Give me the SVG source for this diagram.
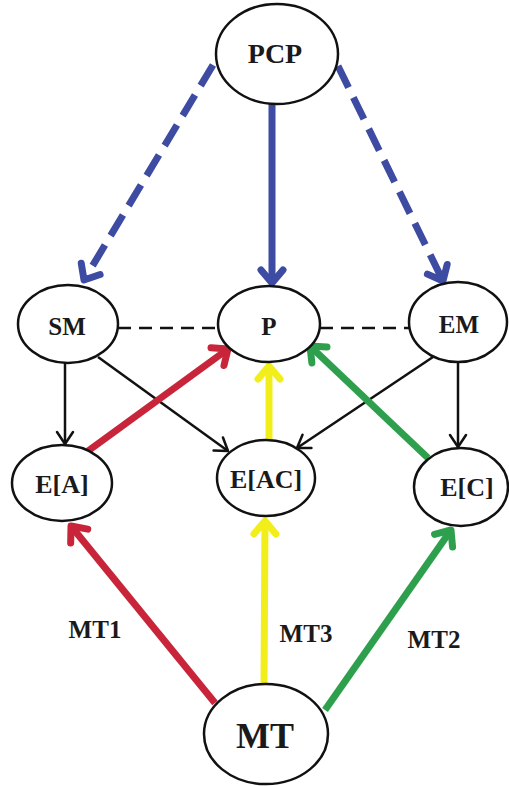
<svg xmlns="http://www.w3.org/2000/svg" width="509" height="786" viewBox="0 0 509 786">
<style>
.node ellipse{fill:#fff;stroke:#111;stroke-width:2.5}
.node text,.lbl{font-family:"Liberation Serif","Times New Roman",serif;font-weight:bold;fill:#1a1a1a;text-anchor:middle}
.c{fill:none;stroke-linecap:butt}
.blue{stroke:#3d4ba3;stroke-width:7}
.dash{stroke-dasharray:24 11}
.blk{stroke:#111;stroke-width:2.5}
.bdash{stroke:#111;stroke-width:2.5;stroke-dasharray:13 8}
.red{stroke:#c9253a;stroke-width:7}
.yel{stroke:#f2ee1c;stroke-width:7}
.grn{stroke:#2ea04d;stroke-width:7}
</style>
<defs>
<marker id="mB" markerUnits="userSpaceOnUse" viewBox="-20 -14 24 28" refX="0" refY="0" markerWidth="24" markerHeight="28" orient="auto" overflow="visible"><path d="M-13 -11 L0 0 L-13 11" fill="none" stroke="#3d4ba3" stroke-width="7" stroke-linecap="round" stroke-linejoin="round"/></marker>
<marker id="mK" markerUnits="userSpaceOnUse" viewBox="-20 -14 24 28" refX="0" refY="0" markerWidth="24" markerHeight="28" orient="auto" overflow="visible"><path d="M-12 -8 L0 0 L-12 8" fill="none" stroke="#111" stroke-width="2.5" stroke-linecap="round" stroke-linejoin="round"/></marker>
<marker id="mR" markerUnits="userSpaceOnUse" viewBox="-20 -14 24 28" refX="0" refY="0" markerWidth="24" markerHeight="28" orient="auto" overflow="visible"><path d="M-13 -11 L0 0 L-13 11" fill="none" stroke="#c9253a" stroke-width="7" stroke-linecap="round" stroke-linejoin="round"/></marker>
<marker id="mY" markerUnits="userSpaceOnUse" viewBox="-20 -14 24 28" refX="0" refY="0" markerWidth="24" markerHeight="28" orient="auto" overflow="visible"><path d="M-13 -11 L0 0 L-13 11" fill="none" stroke="#f2ee1c" stroke-width="7" stroke-linecap="round" stroke-linejoin="round"/></marker>
<marker id="mG" markerUnits="userSpaceOnUse" viewBox="-20 -14 24 28" refX="0" refY="0" markerWidth="24" markerHeight="28" orient="auto" overflow="visible"><path d="M-13 -11 L0 0 L-13 11" fill="none" stroke="#2ea04d" stroke-width="7" stroke-linecap="round" stroke-linejoin="round"/></marker>
</defs>
<rect width="509" height="786" fill="#fff"/>
<g id="connectors">
<line class="c blue dash" x1="213" y1="65" x2="84" y2="280" marker-end="url(#mB)"/>
<line class="c blue" x1="272" y1="104" x2="272" y2="283" marker-end="url(#mB)"/>
<line class="c blue dash" x1="338" y1="66" x2="443" y2="281" marker-end="url(#mB)"/>
<line class="c bdash" x1="118" y1="328" x2="218" y2="328"/>
<line class="c bdash" x1="320" y1="328" x2="409" y2="328"/>
<line class="c blk" x1="65" y1="362" x2="65" y2="444" marker-end="url(#mK)"/>
<line class="c blk" x1="98" y1="357" x2="228" y2="451" marker-end="url(#mK)"/>
<line class="c blk" x1="433" y1="357" x2="297" y2="448" marker-end="url(#mK)"/>
<line class="c blk" x1="458" y1="362" x2="458" y2="447" marker-end="url(#mK)"/>
<line class="c red" x1="88" y1="451" x2="228" y2="349" marker-end="url(#mR)"/>
<line class="c yel" x1="269" y1="440" x2="269" y2="366" marker-end="url(#mY)"/>
<line class="c grn" x1="428" y1="458" x2="310" y2="346" marker-end="url(#mG)"/>
<line class="c red" x1="215" y1="703" x2="71" y2="526" marker-end="url(#mR)"/>
<line class="c yel" x1="264" y1="685" x2="265" y2="521" marker-end="url(#mY)"/>
<line class="c grn" x1="325" y1="710" x2="451" y2="530" marker-end="url(#mG)"/>
<text class="lbl" x="95" y="638" font-size="25">MT1</text>
<text class="lbl" x="306" y="642" font-size="25">MT3</text>
<text class="lbl" x="434" y="648" font-size="25">MT2</text>
</g>
<g id="PCP" class="node"><ellipse cx="277" cy="54" rx="61" ry="50"/><text x="275" y="63" font-size="28">PCP</text></g>
<g id="SM" class="node"><ellipse cx="68" cy="324" rx="50" ry="39"/><text x="67" y="335" font-size="25">SM</text></g>
<g id="P" class="node"><ellipse cx="269" cy="324" rx="51" ry="38"/><text x="269" y="335" font-size="25">P</text></g>
<g id="EM" class="node"><ellipse cx="458" cy="322" rx="49" ry="40"/><text x="459" y="333" font-size="25">EM</text></g>
<g id="EA" class="node"><ellipse cx="62" cy="483" rx="50" ry="38"/><text x="62" y="493" font-size="26">E[A]</text></g>
<g id="EAC" class="node"><ellipse cx="266" cy="478" rx="49" ry="38"/><text x="266" y="488" font-size="26">E[AC]</text></g>
<g id="EC" class="node"><ellipse cx="461" cy="487" rx="47" ry="39"/><text x="467" y="496" font-size="26">E[C]</text></g>
<g id="MT" class="node"><ellipse cx="266" cy="734" rx="62" ry="50"/><text x="265" y="748" font-size="36">MT</text></g>
</svg>
